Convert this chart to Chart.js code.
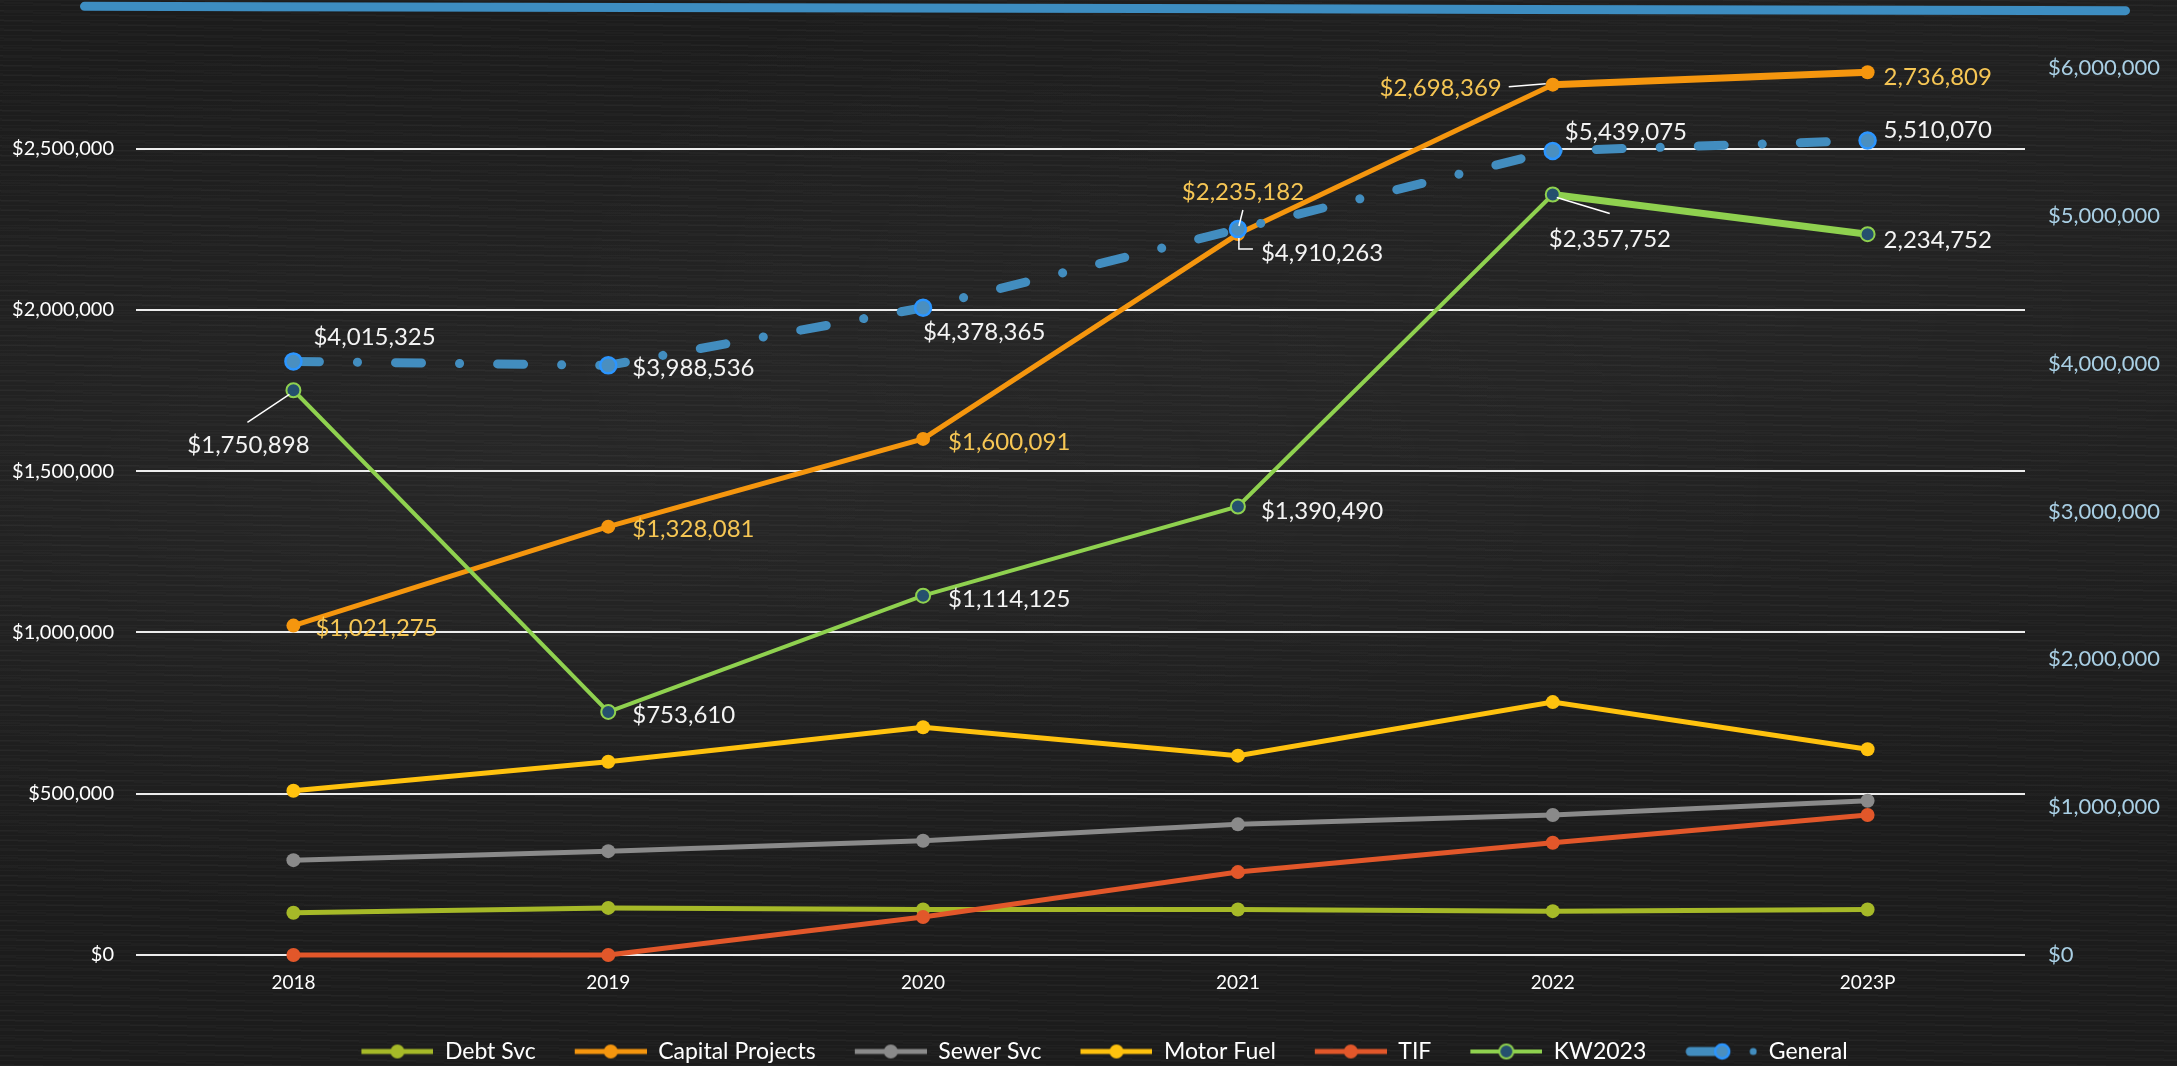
<!DOCTYPE html>
<html>
<head>
<meta charset="utf-8">
<script src="https://cdn.jsdelivr.net/npm/chart.js@4.4.0/dist/chart.umd.min.js"></script>
<style>
  html, body { margin: 0; padding: 0; }
  body {
    width: 2177px; height: 1066px; overflow: hidden; position: relative;
    background-color: #1c1c1c;
    background-image:
      repeating-linear-gradient(0deg, rgba(255,255,255,0.025) 0 1px, transparent 1px 5px),
      repeating-linear-gradient(2deg, rgba(255,255,255,0.018) 0 2px, transparent 2px 9px),
      radial-gradient(ellipse at 25% 45%, rgba(255,255,255,0.05), transparent 55%),
      radial-gradient(ellipse at 80% 30%, rgba(255,255,255,0.04), transparent 50%);
  }
  #stroke {
    position: absolute; left: 80px; top: 4px; width: 2050px; height: 9px;
    background: #3d8dc1; border-radius: 5px; transform: rotate(0.12deg);
  }
  #wrap { position: absolute; left: 0; top: 0; width: 2177px; height: 1066px; }
</style>
</head>
<body>
<div id="stroke"></div>
<div id="wrap"><canvas id="chart"></canvas></div>
<script>
// values
const years = ['2018', '2019', '2020', '2021', '2022', '2023P'];
const debtSvc = [131000, 146000, 141000, 141000, 136000, 141000];
const capitalProjects = [1021275, 1328081, 1600091, 2235182, 2698369, 2736809];
const sewerSvc = [294000, 322000, 354000, 405000, 434000, 478000];
const motorFuel = [509000, 599000, 706000, 618000, 784000, 638000];
const tif = [0, 0, 118000, 257000, 348000, 434000];
const kw2023 = [1750898, 753610, 1114125, 1390490, 2357752, 2234752];
const general = [4015325, 3988536, 4378365, 4910263, 5439075, 5510070];
const leftTicks = [0, 500000, 1000000, 1500000, 2000000, 2500000];
const rightTicks = [0, 1000000, 2000000, 3000000, 4000000, 5000000, 6000000];

const FONT = 'Lato, "Open Sans", sans-serif';
const money = v => '$' + v.toLocaleString('en-US');

// legend icon: line with a marker, drawn into a small canvas
function legendIcon(kind, line, fill, border) {
  const c = document.createElement('canvas');
  c.width = 104; c.height = 24;
  const g = c.getContext('2d');
  const y = 12;
  if (kind === 'dash') {
    g.strokeStyle = line; g.lineWidth = 9; g.lineCap = 'round';
    g.beginPath(); g.moveTo(37, y); g.lineTo(66, y); g.stroke();
    g.fillStyle = fill; g.strokeStyle = border; g.lineWidth = 2.5;
    g.beginPath(); g.arc(69, y, 7, 0, Math.PI * 2); g.fill(); g.stroke();
    g.fillStyle = line;
    g.beginPath(); g.arc(100, y, 3.5, 0, Math.PI * 2); g.fill();
  } else {
    g.strokeStyle = line; g.lineWidth = kind === 'ring' ? 4 : 5;
    g.beginPath(); g.moveTo(32, y); g.lineTo(104, y); g.stroke();
    g.fillStyle = fill; g.strokeStyle = border; g.lineWidth = 2;
    g.beginPath(); g.arc(68, y, 7, 0, Math.PI * 2); g.fill();
    if (kind === 'ring') g.stroke();
  }
  return c;
}

// data label placement (offsets from the point, in px)
const labelSpots = {
  1: [
    { dx: 22, dy: 3 }, { dx: 24, dy: 3 }, { dx: 25, dy: 3 },
    { dx: 5, dy: -42, align: 'center', leader: [[5, -24], [1, -8]] },
    { dx: -51, dy: 4, align: 'right', leader: [[-44, 2], [-7, -1]] },
    { dx: 16, dy: 5 }
  ],
  5: [
    { dx: -45, dy: 55, align: 'center', leader: [[-4, 4], [-46, 32]] },
    { dx: 24, dy: 3 }, { dx: 25, dy: 4 }, { dx: 23, dy: 5 },
    { dx: -4, dy: 45, leader: [[4, 3], [57, 19]] },
    { dx: 16, dy: 6 }
  ],
  6: [
    { dx: 20, dy: -24 }, { dx: 24, dy: 3 }, { dx: 0, dy: 25 },
    { dx: 23, dy: 24, leader: [[1, 9], [1, 20], [15, 20]] },
    { dx: 12, dy: -19 }, { dx: 16, dy: -10 }
  ]
};
const labelColors = { 1: '#f6c654', 5: '#f4f4f4', 6: '#f4f4f4' };

const valueLabels = {
  id: 'valueLabels',
  afterDatasetsDraw(chart) {
    const ctx = chart.ctx;
    ctx.save();
    ctx.font = '24px ' + FONT;
    ctx.textBaseline = 'middle';
    Object.keys(labelSpots).forEach(k => {
      const di = +k;
      const meta = chart.getDatasetMeta(di);
      const values = chart.data.datasets[di].data;
      labelSpots[k].forEach((s, i) => {
        const pt = meta.data[i];
        if (s.leader) {
          ctx.strokeStyle = '#ffffff'; ctx.lineWidth = 1.5;
          ctx.beginPath();
          s.leader.forEach((p, j) => {
            j ? ctx.lineTo(pt.x + p[0], pt.y + p[1]) : ctx.moveTo(pt.x + p[0], pt.y + p[1]);
          });
          ctx.stroke();
        }
        ctx.fillStyle = labelColors[k];
        ctx.textAlign = s.align || 'left';
        const txt = i < 5 ? money(values[i]) : values[i].toLocaleString('en-US');
        ctx.fillText(txt, pt.x + s.dx, pt.y + s.dy);
      });
    });
    ctx.restore();
  }
};

function plain(label, data, color, order) {
  return {
    label, data, order, yAxisID: 'y',
    borderColor: color, backgroundColor: color, borderWidth: 5,
    pointRadius: 7, pointHoverRadius: 7, pointBackgroundColor: color,
    pointBorderColor: color, pointBorderWidth: 0, clip: false
  };
}

const datasets = [
  plain('Debt Svc', debtSvc, '#a6b928', 6),
  Object.assign(plain('Capital Projects', capitalProjects, '#f5960e', 5), {
    segment: { borderWidth: c => c.p0DataIndex === 4 ? 7 : 5 }
  }),
  plain('Sewer Svc', sewerSvc, '#8a8a8a', 4),
  plain('Motor Fuel', motorFuel, '#ffc20e', 3),
  plain('TIF', tif, '#e2572a', 2),
  {
    label: 'KW2023', data: kw2023, order: 1, yAxisID: 'y',
    borderColor: '#8fd14f', backgroundColor: '#8fd14f', borderWidth: 4,
    segment: { borderWidth: c => c.p0DataIndex === 4 ? 7 : 4 },
    pointRadius: 7, pointHoverRadius: 7, pointBackgroundColor: '#25506e',
    pointBorderColor: '#8fd14f', pointBorderWidth: 2, clip: false
  },
  {
    label: 'General', data: general, order: 0, yAxisID: 'y1',
    borderColor: '#428dbf', backgroundColor: '#428dbf', borderWidth: 9,
    borderDash: [26, 38, 0.1, 38], borderCapStyle: 'round',
    pointRadius: 8, pointHoverRadius: 8, pointBackgroundColor: '#4a8fc0',
    pointBorderColor: '#2b95ff', pointBorderWidth: 2.5, clip: false
  }
];

const icons = [
  legendIcon('line', '#a6b928', '#a6b928'),
  legendIcon('line', '#f5960e', '#f5960e'),
  legendIcon('line', '#8a8a8a', '#8a8a8a'),
  legendIcon('line', '#ffc20e', '#ffc20e'),
  legendIcon('line', '#e2572a', '#e2572a'),
  legendIcon('ring', '#8fd14f', '#25506e', '#8fd14f'),
  legendIcon('dash', '#428dbf', '#4a8fc0', '#2b95ff')
];

new Chart(document.getElementById('chart'), {
  type: 'line',
  data: { labels: years, datasets },
  options: {
    responsive: true,
    maintainAspectRatio: false,
    animation: false,
    layout: { padding: { top: 68, bottom: -7, left: 0, right: 0 } },
    plugins: {
      tooltip: { enabled: false },
      legend: {
        position: 'bottom',
        labels: {
          usePointStyle: true, pointStyleWidth: 104, boxHeight: 22,
          padding: 7, color: '#ffffff',
          font: { family: FONT, size: 23 },
          generateLabels: chart => chart.data.datasets.map((ds, i) => ({
            text: ds.label, pointStyle: icons[i], fontColor: '#ffffff',
            fillStyle: 'transparent', strokeStyle: 'transparent', lineWidth: 0,
            hidden: false, datasetIndex: i
          }))
        }
      }
    },
    scales: {
      x: {
        offset: true,
        grid: { display: false, drawTicks: false },
        border: { display: false },
        ticks: { color: '#ffffff', font: { family: FONT, size: 19 }, padding: 16 },
        afterFit: s => { s.height = 78; }
      },
      y: {
        position: 'left', min: 0, max: 2750000,
        grid: { color: '#ececec', lineWidth: 2, drawTicks: false },
        border: { display: false },
        ticks: { color: '#ffffff', font: { family: FONT, size: 20 }, padding: 22, callback: v => money(v) },
        afterBuildTicks: a => { a.ticks = leftTicks.map(v => ({ value: v })); },
        afterFit: s => { s.width = 136; }
      },
      y1: {
        position: 'right', min: 0, max: 6000000,
        grid: { display: false, drawTicks: false },
        border: { display: false },
        ticks: { color: '#a9cfe4', font: { family: FONT, size: 22 }, padding: 23, callback: v => money(v) },
        afterBuildTicks: a => { a.ticks = rightTicks.map(v => ({ value: v })); },
        afterFit: s => { s.width = 152; }
      }
    }
  },
  plugins: [valueLabels]
});
</script>
</body>
</html>
